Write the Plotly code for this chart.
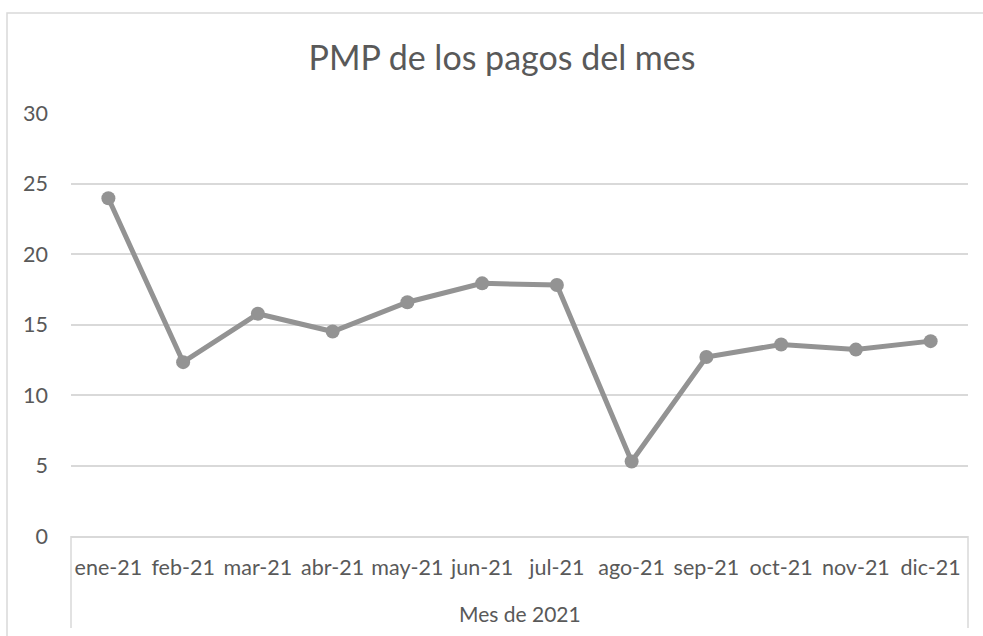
import plotly.graph_objects as go

months = ["ene-21", "feb-21", "mar-21", "abr-21", "may-21", "jun-21",
          "jul-21", "ago-21", "sep-21", "oct-21", "nov-21", "dic-21"]
pmp = [23.95, 12.33, 15.76, 14.5, 16.58, 17.92, 17.8, 5.28, 12.69, 13.58, 13.22, 13.82]
y_ticks = [0, 5, 10, 15, 20, 25, 30]

TEXT = "#595959"
GRID = "#d9d9d9"
LINE = "#939393"
FONT = "Lato, Open Sans, sans-serif"

W, H = 983, 636
L, R, T, B = 71, 968, 113, 536
pw, ph = R - L, B - T


def px(x):
    return (x - L) / pw


def py(y):
    return (B - y) / ph


fig = go.Figure()
fig.add_trace(go.Scatter(
    x=months, y=pmp, mode="lines+markers",
    line=dict(color=LINE, width=5),
    marker=dict(color=LINE, size=14),
    showlegend=False, hoverinfo="x+y",
))

shapes = [
    # outer chart border
    dict(type="rect", xref="paper", yref="paper",
         x0=px(7), x1=px(995), y0=py(650), y1=py(13),
         line=dict(color=GRID, width=1.5), fillcolor="rgba(0,0,0,0)", layer="below"),
    # multi-level category box sides
    dict(type="line", xref="paper", yref="paper",
         x0=0, x1=0, y0=0, y1=py(628), line=dict(color=GRID, width=1.5)),
    dict(type="line", xref="paper", yref="paper",
         x0=1, x1=1, y0=0, y1=py(628), line=dict(color=GRID, width=1.5)),
]

annotations = [
    dict(text="Mes de 2021", xref="paper", yref="paper", x=0.5, y=py(613),
         xanchor="center", yanchor="middle", showarrow=False,
         font=dict(size=21, color=TEXT, family=FONT)),
]

fig.update_layout(
    width=W, height=H,
    margin=dict(l=L, r=W - R, t=T, b=H - B),
    paper_bgcolor="white", plot_bgcolor="white",
    font=dict(family=FONT, color=TEXT, size=21.5),
    title=dict(text="PMP de los pagos del mes", xref="container", x=502 / W,
               xanchor="center", yref="container", y=1 - 58 / H, yanchor="middle",
               font=dict(size=34, color=TEXT, family=FONT)),
    xaxis=dict(
        type="category", range=[-0.5, len(months) - 0.5],
        showgrid=False, zeroline=False,
        showline=True, linecolor=GRID, linewidth=2,
        ticks="", tickfont=dict(size=21.5, color=TEXT),
        ticklabelstandoff=11,
    ),
    yaxis=dict(
        range=[0, 30], tickvals=y_ticks, showgrid=True, gridcolor=GRID, gridwidth=1.5,
        zeroline=False, showline=False, ticks="",
        tickfont=dict(size=21.5, color=TEXT), ticklabelstandoff=22,
    ),
    shapes=shapes,
    annotations=annotations,
)

fig.write_html("out.html", config={"displayModeBar": False},
               post_script="document.body.style.margin='0';document.body.style.overflow='hidden';")
